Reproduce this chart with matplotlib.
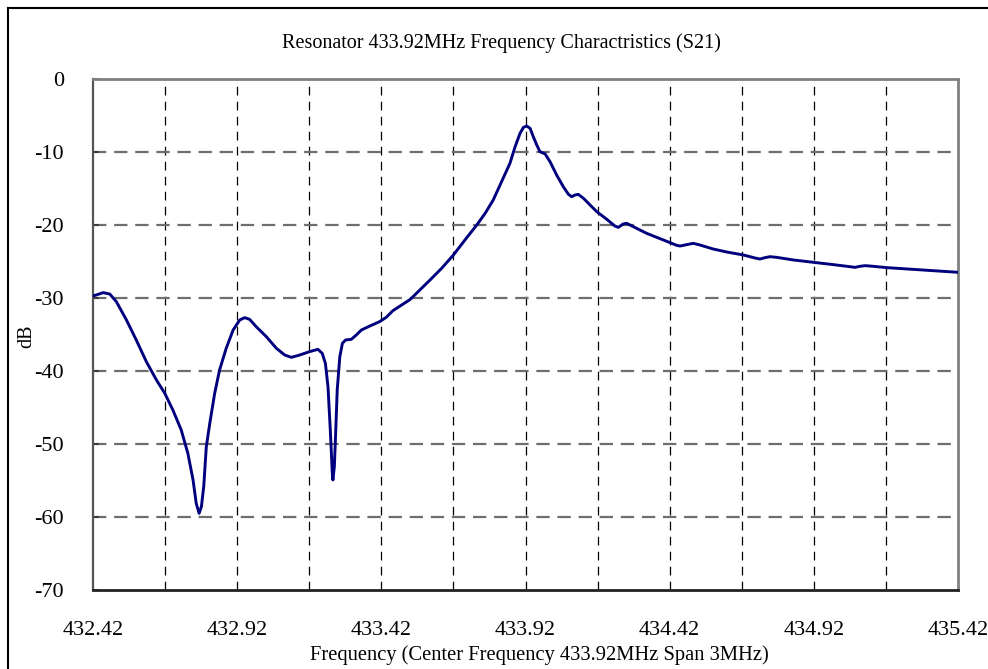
import matplotlib
matplotlib.use("Agg")
import matplotlib.pyplot as plt
from matplotlib.lines import Line2D
from matplotlib.ticker import MultipleLocator, FixedLocator
import numpy as np

freq_mhz = [
    432.420, 432.455, 432.478, 432.501, 432.536, 432.570, 432.605, 432.640, 432.669, 432.697,
    432.726, 432.749, 432.767, 432.778, 432.788, 432.796, 432.804, 432.813, 432.825, 432.842,
    432.859, 432.882, 432.906, 432.929, 432.946, 432.963, 432.986, 433.021, 433.056, 433.085,
    433.108, 433.137, 433.171, 433.200, 433.215, 433.226, 433.235, 433.243, 433.250, 433.252,
    433.257, 433.262, 433.267, 433.276, 433.285, 433.296, 433.316, 433.333, 433.351, 433.380,
    433.414, 433.437, 433.460, 433.520, 433.589, 433.629, 433.670, 433.710, 433.751, 433.780,
    433.808, 433.837, 433.866, 433.884, 433.901, 433.913, 433.924, 433.936, 433.947, 433.959,
    433.970, 433.988, 434.005, 434.028, 434.051, 434.069, 434.080, 434.092, 434.103, 434.121,
    434.144, 434.167, 434.202, 434.230, 434.242, 434.259, 434.271, 434.294, 434.340, 434.398,
    434.444, 434.456, 434.473, 434.502, 434.525, 434.571, 434.618, 434.676, 434.716, 434.733,
    434.751, 434.768, 434.791, 434.849, 434.918, 434.988, 435.045, 435.063, 435.080, 435.098,
    435.126, 435.173, 435.277, 435.420,
]
s21_db = [
    -29.73, -29.27, -29.45, -30.50, -33.01, -35.75, -38.72, -41.23, -43.06, -45.34,
    -48.08, -51.28, -54.93, -58.13, -59.50, -58.58, -55.84, -50.37, -47.17, -43.06,
    -39.86, -36.89, -34.38, -33.01, -32.69, -32.92, -33.93, -35.29, -36.89, -37.81,
    -38.13, -37.81, -37.35, -37.03, -37.58, -38.95, -42.15, -48.08, -54.02, -54.93,
    -53.11, -48.08, -42.60, -38.04, -36.21, -35.75, -35.66, -35.07, -34.38, -33.84,
    -33.24, -32.65, -31.74, -30.20, -27.53, -25.94, -24.11, -22.05, -20.00, -18.40,
    -16.58, -14.07, -11.55, -9.27, -7.44, -6.62, -6.44, -6.76, -7.90, -9.04,
    -9.95, -10.27, -11.32, -13.15, -14.75, -15.80, -16.12, -15.89, -15.80, -16.34,
    -17.26, -18.17, -19.22, -20.14, -20.32, -19.86, -19.77, -20.23, -21.14, -22.05,
    -22.78, -22.88, -22.74, -22.51, -22.74, -23.29, -23.70, -24.11, -24.52, -24.66,
    -24.47, -24.34, -24.43, -24.79, -25.11, -25.43, -25.71, -25.80, -25.66, -25.57,
    -25.66, -25.84, -26.11, -26.48,
]
x_tick_labels = ["432.42", "432.92", "433.42", "433.92", "434.42", "434.92", "435.42"]
y_ticks = [0, -10, -20, -30, -40, -50, -60, -70]

title = "Resonator 433.92MHz Frequency Charactristics (S21)"
xlabel = "Frequency (Center Frequency 433.92MHz Span 3MHz)"
ylabel = "dB"

plt.rcParams['font.family'] = ['Liberation Serif', 'DejaVu Serif']

W, H = 988, 669
fig = plt.figure(figsize=(W / 100, H / 100), dpi=100)
ax = fig.add_axes([93 / W, 1 - 590 / H, (958 - 93) / W, (590 - 79) / H])

x_major = [float(v) for v in x_tick_labels]
ax.set_xlim(x_major[0], x_major[-1])
ax.set_ylim(-70, 0)

ax.xaxis.set_major_locator(FixedLocator(x_major))
ax.set_xticklabels(x_tick_labels)
ax.xaxis.set_minor_locator(MultipleLocator(0.25))
ax.yaxis.set_major_locator(FixedLocator(y_ticks))
ax.set_yticklabels([str(v) for v in y_ticks])

# grids
ax.grid(False)
for xv in np.arange(x_major[0] + 0.25, x_major[-1] - 0.01, 0.25):
    ax.axvline(xv, color="black", lw=0.9, ls=(0, (7, 5)), zorder=1)
for yv in y_ticks[1:-1]:
    ax.axhline(yv, color="#6e6e6e", lw=1.6, ls=(0, (6, 3.5)), zorder=1)

ax.plot(freq_mhz, s21_db, color="#00007f", lw=2.1, zorder=3,
        solid_joinstyle="round", solid_capstyle="round")

ax.tick_params(axis="x", which="both", length=0, pad=22, labelsize=16)
ax.tick_params(axis="y", which="major", direction="in", length=4, width=1.2,
               color="#333333", pad=21, labelsize=16)
ax.tick_params(axis="y", which="minor", length=0)

for s in ("top", "right"):
    ax.spines[s].set_color("#808080")
    ax.spines[s].set_linewidth(2.0)
ax.spines["left"].set_color("#555555")
ax.spines["left"].set_linewidth(1.6)
ax.spines["bottom"].set_color("#222222")
ax.spines["bottom"].set_linewidth(2.0)

fig.text(501 / W, 1 - 43 / H, title, ha="center", va="center", fontsize=14.5)
fig.text(539 / W, 1 - 655 / H, xlabel, ha="center", va="center", fontsize=14.8)
fig.text(27 / W, 1 - 336 / H, ylabel, ha="center", va="center", rotation=90, fontsize=14.5)

# outer frame (left and top edges)
fig.add_artist(Line2D([7.5 / W, 7.5 / W], [0, 1 - 8 / H], transform=fig.transFigure,
                      color="black", lw=1.5))
fig.add_artist(Line2D([7.5 / W, 1], [1 - 8 / H, 1 - 8 / H], transform=fig.transFigure,
                      color="black", lw=1.5))

fig.savefig("out.png", dpi=100)
